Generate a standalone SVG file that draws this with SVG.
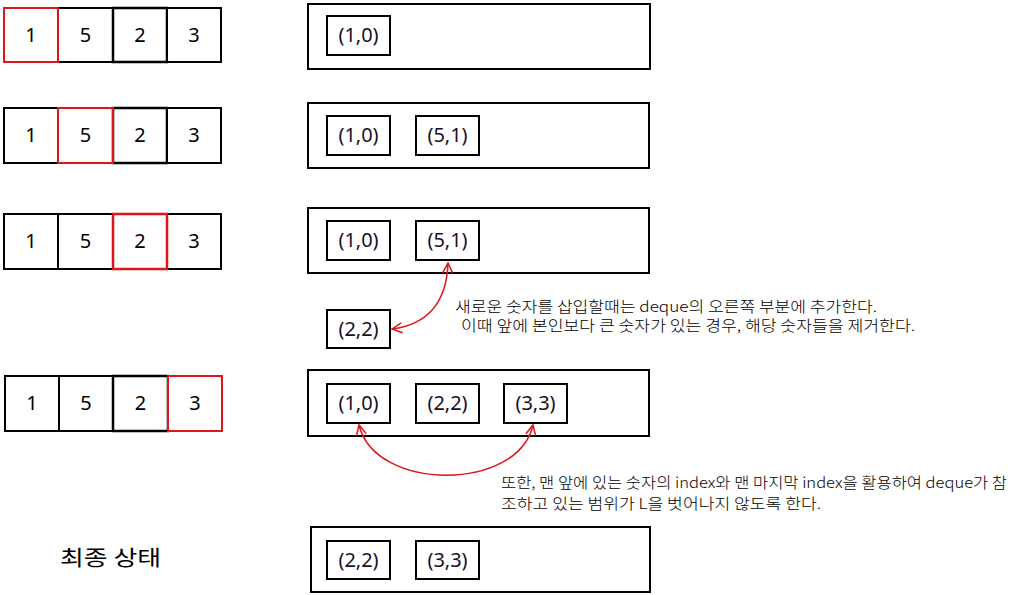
<svg xmlns="http://www.w3.org/2000/svg" width="1019" height="595" viewBox="0 0 1019 595">
<style>
.cell{fill:#fff;stroke:#000;stroke-width:2}
.cellr{fill:none;stroke:#e0141c;stroke-width:2}
.box{fill:#fff;stroke:#000;stroke-width:2}
.num{font-family:"Noto Sans","DejaVu Sans",sans-serif;font-size:20px;fill:#000;text-anchor:middle}
.tup{font-family:"Noto Sans","DejaVu Sans",sans-serif;font-size:20px;fill:#1a0f2a;text-anchor:middle}
.kr{font-family:"Noto Sans CJK KR","Noto Sans",sans-serif;font-size:15px;font-weight:300;fill:#000}
.conn{fill:none;stroke:#e0141c;stroke-width:1.5}
</style>
<defs>
<marker id="ah" viewBox="0 0 12 12" refX="11" refY="6" markerWidth="12" markerHeight="12" markerUnits="userSpaceOnUse" orient="auto-start-reverse">
<path d="M1,1 L11,6 L1,11" fill="none" stroke="#e0141c" stroke-width="1.5"/>
</marker>
</defs>
<rect width="1019" height="595" fill="#fff"/>

<g id="array1">
<rect class="cell" x="4" y="8" width="54" height="54"/>
<rect class="cell" x="58" y="8" width="55" height="54"/>
<rect class="cell" x="113" y="8" width="54" height="54" style="stroke-width:2.5"/>
<rect class="cell" x="167" y="8" width="54" height="54"/>
<rect class="cellr" x="4" y="8" width="54" height="54"/>
<text class="num" x="31" y="42">1</text><text class="num" x="85.5" y="42">5</text><text class="num" x="140" y="42">2</text><text class="num" x="194" y="42">3</text>
</g>

<g id="array2">
<rect class="cell" x="4" y="108" width="54" height="55"/>
<rect class="cell" x="58" y="108" width="55" height="55"/>
<rect class="cell" x="113" y="108" width="54" height="55" style="stroke-width:2.5"/>
<rect class="cell" x="167" y="108" width="54" height="55"/>
<rect class="cellr" x="58" y="108" width="55" height="55"/>
<text class="num" x="31" y="142">1</text><text class="num" x="85.5" y="142">5</text><text class="num" x="140" y="142">2</text><text class="num" x="194" y="142">3</text>
</g>

<g id="array3">
<rect class="cell" x="4" y="214" width="54" height="55"/>
<rect class="cell" x="58" y="214" width="55" height="55"/>
<rect class="cell" x="113" y="214" width="54" height="55"/>
<rect class="cell" x="167" y="214" width="54" height="55"/>
<rect class="cellr" x="113" y="214" width="54" height="55" style="stroke-width:2.5"/>
<text class="num" x="31" y="248">1</text><text class="num" x="85.5" y="248">5</text><text class="num" x="140" y="248">2</text><text class="num" x="194" y="248">3</text>
</g>

<g id="array4">
<rect class="cell" x="5" y="376" width="54" height="55"/>
<rect class="cell" x="59" y="376" width="54" height="55"/>
<rect class="cell" x="113" y="376" width="55" height="55" style="stroke-width:2.5"/>
<rect class="cell" x="168" y="376" width="54" height="55"/>
<rect class="cellr" x="168" y="376" width="54" height="55"/>
<text class="num" x="32" y="410">1</text><text class="num" x="86" y="410">5</text><text class="num" x="140.5" y="410">2</text><text class="num" x="195" y="410">3</text>
</g>

<g id="deque1">
<rect class="box" x="308" y="4" width="342" height="65"/>
<rect class="box" x="327" y="16" width="63" height="39"/>
<text class="tup" x="358.5" y="42">(1,0)</text>
</g>

<g id="deque2">
<rect class="box" x="308" y="103" width="341" height="65"/>
<rect class="box" x="327" y="116" width="63" height="39"/>
<text class="tup" x="358.5" y="142">(1,0)</text>
<rect class="box" x="416" y="116" width="63" height="39"/>
<text class="tup" x="447.5" y="142">(5,1)</text>
</g>

<g id="deque3">
<rect class="box" x="308" y="208" width="341" height="65"/>
<rect class="box" x="327" y="221" width="63" height="39"/>
<text class="tup" x="358.5" y="247">(1,0)</text>
<rect class="box" x="416" y="221" width="63" height="39"/>
<text class="tup" x="447.5" y="247">(5,1)</text>
</g>

<g id="new22">
<rect class="box" x="327" y="310" width="63" height="38"/>
<text class="tup" x="358.5" y="336">(2,2)</text>
</g>

<g id="deque4">
<rect class="box" x="308" y="370" width="341" height="66"/>
<rect class="box" x="327" y="384" width="63" height="39"/>
<text class="tup" x="358.5" y="410">(1,0)</text>
<rect class="box" x="416" y="384" width="63" height="39"/>
<text class="tup" x="447.5" y="410">(2,2)</text>
<rect class="box" x="504" y="384" width="63" height="39"/>
<text class="tup" x="535.5" y="410">(3,3)</text>
</g>

<g id="deque5">
<rect class="box" x="311" y="527" width="339" height="65"/>
<rect class="box" x="327" y="541" width="63" height="38"/>
<text class="tup" x="358.5" y="567">(2,2)</text>
<rect class="box" x="416" y="541" width="63" height="38"/>
<text class="tup" x="447.5" y="567">(3,3)</text>
</g>

<g id="connectors">
<path class="conn" d="M448,263 Q446,322 392,329" marker-start="url(#ah)" marker-end="url(#ah)"/>
<path class="conn" d="M359,425 C375,492 518,492 533,425" marker-start="url(#ah)" marker-end="url(#ah)"/>
</g>

<g id="labels">
<text class="kr" x="455" y="312" textLength="422" lengthAdjust="spacingAndGlyphs">새로운 숫자를 삽입할때는 deque의 오른쪽 부분에 추가한다.</text>
<text class="kr" x="461" y="331" textLength="454" lengthAdjust="spacingAndGlyphs">이때 앞에 본인보다 큰 숫자가 있는 경우, 해당 숫자들을 제거한다.</text>
<text class="kr" x="501" y="488" textLength="506" lengthAdjust="spacingAndGlyphs">또한, 맨 앞에 있는 숫자의 index와 맨 마지막 index을 활용하여 deque가 참</text>
<text class="kr" x="501" y="509" textLength="320" lengthAdjust="spacingAndGlyphs">조하고 있는 범위가 L을 벗어나지 않도록 한다.</text>
<text class="kr" x="60" y="565" style="font-size:21px;font-weight:400" textLength="101" lengthAdjust="spacingAndGlyphs">최종 상태</text>
</g>
</svg>
